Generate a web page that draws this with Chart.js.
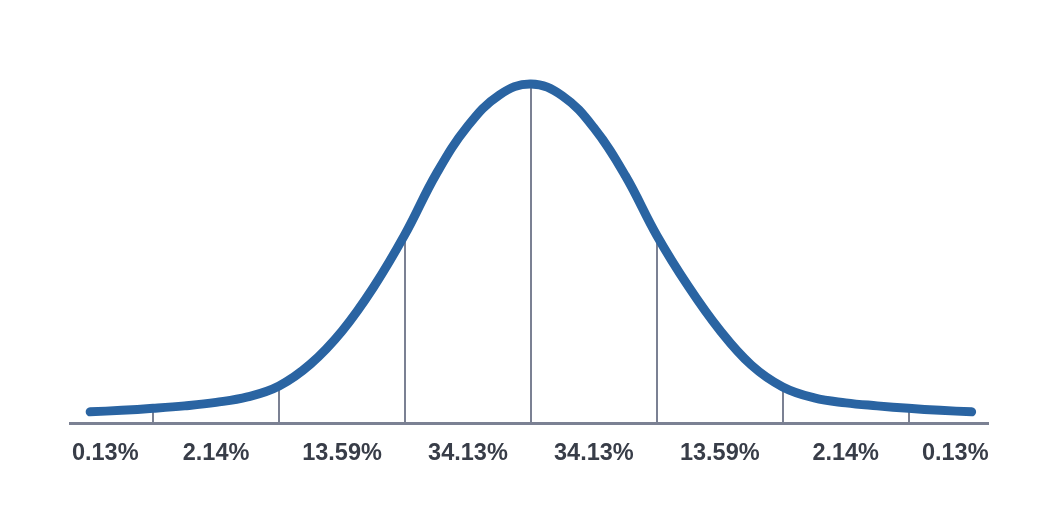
<!DOCTYPE html>
<html>
<head>
<meta charset="utf-8">
<script src="https://cdn.jsdelivr.net/npm/chart.js@4/dist/chart.umd.min.js"></script>
<style>
  html, body { margin: 0; padding: 0; background: #ffffff; }
  #wrap { width: 1060px; height: 530px; }
</style>
</head>
<body>
<div id="wrap"><canvas id="canvas" width="1060" height="530"></canvas></div>
<script>
let curveX = [-3.5, -3.25, -3, -2.75, -2.5, -2.25, -2, -1.75, -1.5, -1.25, -1, -0.75, -0.5, -0.25,
    0, 0.25, 0.5, 0.75, 1, 1.25, 1.5, 1.75, 2, 2.25, 2.5, 2.75, 3, 3.25, 3.5]
let curveY = [12, 13.5, 15.5, 18, 21.5, 27, 38, 60, 93, 137, 190, 251, 299, 330,
    341, 329, 297, 249, 189, 138, 94, 59, 37, 26, 21, 18, 15.5, 13.5, 12]

// vertical dividers at whole sigmas
let sigmaMarks = [-3, -2, -1, 0, 1, 2, 3]

// band labels under the axis and where they sit
let bandLabels = ['0.13%', '2.14%', '13.59%', '34.13%', '34.13%', '13.59%', '2.14%', '0.13%']
let bandPos = [-3.38, -2.5, -1.5, -0.5, 0.5, 1.5, 2.5, 3.37]

const lineBlue = '#2a64a2'
const markGray = '#7b8193'
const textGray = '#383d48'

const dividers = {
    id: 'dividers',
    beforeDatasetsDraw(chart) {
        const { ctx, scales: { x, y } } = chart
        ctx.save()
        ctx.strokeStyle = markGray
        ctx.lineWidth = 2
        sigmaMarks.forEach(s => {
            const i = curveX.indexOf(s)
            const px = Math.round(x.getPixelForValue(s))
            ctx.beginPath()
            ctx.moveTo(px, y.getPixelForValue(0))
            ctx.lineTo(px, y.getPixelForValue(curveY[i]))
            ctx.stroke()
        })
        ctx.restore()
    }
}

const canvas = document.getElementById('canvas')
const myChart = new Chart(canvas, {
    type: 'line',
    plugins: [dividers],
    data: {
        datasets: [{
            data: curveX.map((v, i) => ({ x: v, y: curveY[i] })),
            borderColor: lineBlue,
            borderWidth: 9,
            borderCapStyle: 'round',
            borderJoinStyle: 'round',
            tension: 0.4,
            pointRadius: 0,
            fill: false,
            clip: false
        }]
    },
    options: {
        responsive: false,
        animation: false,
        events: [],
        layout: {
            padding: { left: 70, right: 72, top: 62, bottom: 46 }
        },
        plugins: {
            legend: { display: false },
            tooltip: { enabled: false }
        },
        scales: {
            x: {
                type: 'linear',
                min: -3.66,
                max: 3.63,
                afterBuildTicks(axis) {
                    axis.ticks = bandPos.map(v => ({ value: v }))
                },
                grid: { display: false, drawTicks: false },
                border: { display: true, color: markGray, width: 3 },
                ticks: {
                    autoSkip: false,
                    maxRotation: 0,
                    padding: 16,
                    color: textGray,
                    font: { family: 'Liberation Sans', size: 23.5, weight: 'bold' },
                    callback: (value, index) => bandLabels[index]
                }
            },
            y: {
                display: false,
                min: 0,
                max: 363
            }
        }
    }
})
</script>
</body>
</html>
